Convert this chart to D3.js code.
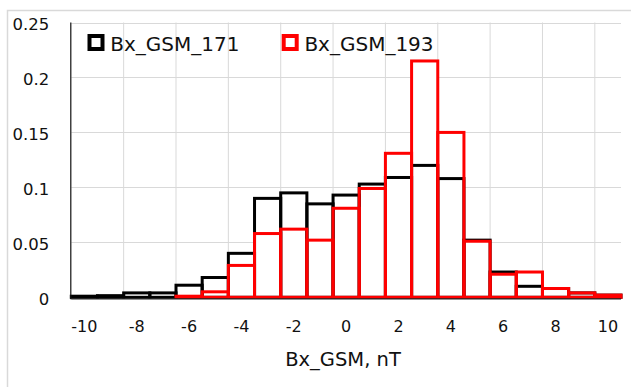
<!DOCTYPE html>
<html>
<head>
<meta charset="utf-8">
<script src="https://cdn.jsdelivr.net/npm/d3@7"></script>
<style>
  html, body { margin: 0; padding: 0; background: #fff; }
  svg { display: block; }
  text { font-family: "DejaVu Sans", sans-serif; fill: #111; }
</style>
</head>
<body>
<svg id="chart" width="631" height="387"></svg>
<script>
// Bin centres of Bx_GSM (nT)
const categories = [-10, -9, -8, -7, -6, -5, -4, -3, -2, -1, 0, 1, 2, 3, 4, 5, 6, 7, 8, 9, 10];
// Relative frequency per bin
const bx171 = [0.001, 0.0015, 0.004, 0.004, 0.011, 0.018, 0.040, 0.090, 0.095, 0.085, 0.093, 0.103, 0.109, 0.120, 0.108, 0.052, 0.023, 0.010, 0.008, 0.004, 0.002];
const bx193 = [null, null, null, null, 0.001, 0.005, 0.029, 0.058, 0.062, 0.052, 0.081, 0.099, 0.131, 0.215, 0.150, 0.051, 0.021, 0.023, 0.008, 0.004, 0.002];
const seriesNames = ["Bx_GSM_171", "Bx_GSM_193"];
const seriesColors = ["#000000", "#ff0000"];
const xTickLabels = [-10, -8, -6, -4, -2, 0, 2, 4, 6, 8, 10];
const yTicks = [0, 0.05, 0.1, 0.15, 0.2, 0.25];
const xTitle = "Bx_GSM, nT";

const svg = d3.select("#chart");
const W = 631, H = 387;
const plotLeft = 71.3, plotRight = 621, plotTop = 22.5, plotBottom = 297.3;

const x = d3.scaleBand().domain(categories).range([plotLeft, plotRight]).padding(0);
const y = d3.scaleLinear().domain([0, 0.25]).range([plotBottom, plotTop]);

// chart area outline (only top and left edges fall inside the frame)
svg.append("path")
  .attr("d", `M7.5,${H} V10.5 H${W}`)
  .attr("fill", "none").attr("stroke", "#d9d9d9").attr("stroke-width", 1.5);

// horizontal gridlines
const grid = svg.append("g");
grid.selectAll("line.h").data(yTicks.filter(d => d > 0)).join("line")
  .attr("class", "h")
  .attr("x1", plotLeft).attr("x2", plotRight)
  .attr("y1", d => Math.round(y(d)) + 0.5).attr("y2", d => Math.round(y(d)) + 0.5)
  .attr("stroke", "#d9d9d9").attr("stroke-width", 1);

// vertical gridlines between every second bin
const vBounds = categories.filter((c, i) => i > 0 && i % 2 === 0);
grid.selectAll("line.v").data(vBounds).join("line")
  .attr("class", "v")
  .attr("x1", d => x(d)).attr("x2", d => x(d))
  .attr("y1", plotTop).attr("y2", plotBottom)
  .attr("stroke", "#d9d9d9").attr("stroke-width", 1);

const series = [bx171, bx193].map((vals, s) =>
  categories.map((c, i) => ({ c, v: vals[i], s })).filter(d => d.v !== null));

// white fills under both outlines
const fills = svg.append("g");
series.forEach(data => {
  fills.selectAll(null).data(data).join("rect")
    .attr("x", d => x(d.c)).attr("width", x.bandwidth())
    .attr("y", d => y(d.v)).attr("height", d => y(0) - y(d.v))
    .attr("fill", "#fff");
});

// outlines, first series underneath the second
series.forEach((data, s) => {
  svg.append("g").selectAll("rect").data(data).join("rect")
    .attr("x", d => x(d.c)).attr("width", x.bandwidth())
    .attr("y", d => y(d.v)).attr("height", d => y(0) - y(d.v))
    .attr("fill", "none")
    .attr("stroke", seriesColors[s]).attr("stroke-width", 3);
});

// axis lines
svg.append("line")
  .attr("x1", plotLeft).attr("x2", plotRight).attr("y1", plotBottom + 1.5).attr("y2", plotBottom + 1.5)
  .attr("stroke", "#222").attr("stroke-width", 1.2);
svg.append("line")
  .attr("x1", plotLeft - 0.5).attr("x2", plotLeft - 0.5).attr("y1", plotTop).attr("y2", plotBottom + 2)
  .attr("stroke", "#111").attr("stroke-width", 1.2);

// y axis labels
const yAxis = d3.axisLeft(y).tickValues(yTicks).tickSize(0).tickPadding(22)
  .tickFormat(d => d === 0 ? "0" : String(+d.toFixed(2)));
const gy = svg.append("g").attr("transform", `translate(${plotLeft},0)`).call(yAxis);
gy.select(".domain").remove();
gy.selectAll("text")
  .attr("font-family", "DejaVu Sans").attr("font-size", 16.5)
  .attr("fill", "#111").attr("dy", "0.42em");

// x axis labels on every second bin
const xAxis = d3.axisBottom(x).tickValues(xTickLabels).tickSize(0);
const gx = svg.append("g").attr("transform", `translate(0,${plotBottom})`).call(xAxis);
gx.select(".domain").remove();
gx.selectAll("text")
  .attr("font-family", "DejaVu Sans").attr("font-size", 16)
  .attr("fill", "#111").attr("y", 34.3).attr("dy", null);

// axis title
svg.append("text")
  .attr("x", 343).attr("y", 365.7)
  .attr("text-anchor", "middle").attr("font-size", 19.5)
  .text(xTitle);

// legend
const legendX = [87.5, 281.7];
const lg = svg.append("g");
seriesNames.forEach((name, s) => {
  lg.append("rect")
    .attr("x", legendX[s] + 2).attr("y", 36)
    .attr("width", 13).attr("height", 13)
    .attr("fill", "#fff").attr("stroke", seriesColors[s]).attr("stroke-width", 4);
  lg.append("text")
    .attr("x", legendX[s] + 22.7).attr("y", 50.5)
    .attr("font-size", 20)
    .text(name);
});
</script>
</body>
</html>
